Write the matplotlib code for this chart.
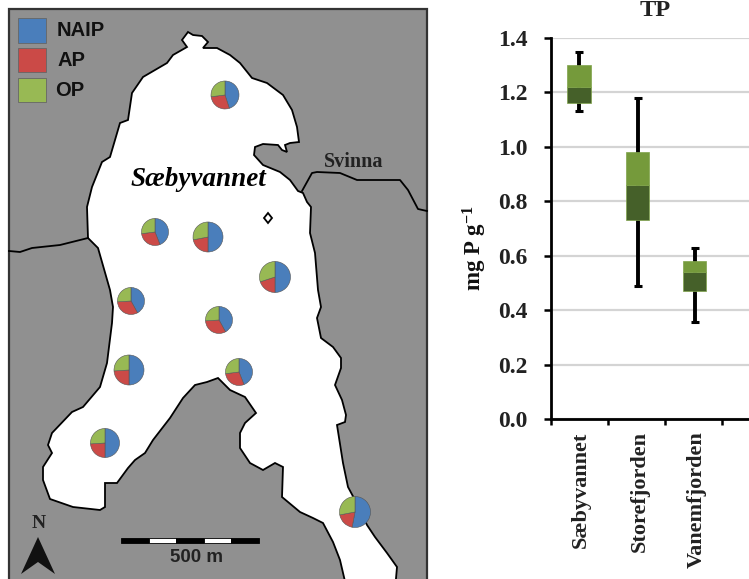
import numpy as np
import matplotlib
matplotlib.use('Agg')
import matplotlib.pyplot as plt
from matplotlib.patches import Rectangle, Polygon

plt.rcParams['font.family'] = ['Liberation Serif', 'DejaVu Sans']
plt.rcParams['mathtext.fontset'] = 'custom'
plt.rcParams['mathtext.rm'] = 'Liberation Serif:bold'
plt.rcParams['mathtext.default'] = 'rm'

# Map data, read in picture pixels
lake_x = [182, 188, 193, 202, 208, 203, 217, 230, 240, 252, 267, 283, 292, 297, 299, 290, 285, 287, 282,
          278, 263, 255, 254, 263, 280, 290, 298, 303, 307, 311, 310, 315, 318, 321, 317, 321, 333, 341, 341,
          335, 342, 346, 345, 337, 343, 348, 355, 367, 375, 387, 397, 395, 347, 340, 333, 323, 313, 300, 282,
          283, 275, 263, 250, 240, 240, 245, 256, 245, 230, 218, 207, 195, 183, 170, 153, 145, 135, 128, 117,
          105, 105, 100, 73, 50, 43, 43, 52, 48, 52, 72, 83, 100, 107, 112, 113, 110, 98, 88, 87, 92, 102,
          110, 120, 128, 132, 143, 167, 173, 187, 182]
lake_y = [40, 32, 35, 36, 42, 48, 48, 55, 63, 78, 83, 95, 110, 127, 142, 143, 145, 152, 150,
          145, 144, 147, 155, 165, 172, 180, 191, 193, 202, 207, 233, 253, 290, 307, 318, 338, 347, 358, 368,
          385, 400, 415, 422, 425, 463, 487, 500, 525, 537, 553, 567, 590, 590, 560, 542, 523, 518, 512, 497,
          467, 463, 470, 463, 448, 433, 423, 413, 397, 390, 378, 382, 385, 398, 418, 440, 453, 460, 468, 483,
          483, 507, 510, 507, 499, 480, 467, 453, 445, 433, 412, 407, 387, 363, 323, 307, 290, 248, 238, 207,
          187, 162, 157, 123, 120, 93, 77, 63, 55, 47, 40]
river_east_x = [302, 312, 317, 340, 357, 400, 408, 418, 427]
river_east_y = [191, 173, 172, 173, 180, 180, 190, 209, 211]
river_west_x = [88, 60, 32, 20, 9]
river_west_y = [238, 245, 248, 252, 251]
island_x = [264, 268, 272, 268]
island_y = [218, 213, 218, 223]

pie_labels = ['NAIP', 'AP', 'OP']
pie_colors = ['#4a7ebb', '#cb4a47', '#98b954']
pie_cx = [225, 155, 208, 275, 131, 219, 129, 239, 105, 355]
pie_cy = [95, 232, 237, 277, 301, 320, 370, 372, 443, 512]
pie_r = [14, 13.5, 15, 15.5, 13.5, 13.5, 15, 13.5, 14.5, 15.5]
naip = [45, 44, 50, 50, 42, 42, 50, 44, 50, 53]
ap = [28, 29, 22, 20, 32, 32, 24, 29, 24, 19]
op = [27, 27, 28, 30, 26, 26, 26, 27, 26, 28]

# Box plot data
sites = ['Sæbyvannet', 'Storefjorden', 'Vanemfjorden']
q1 = [1.16, 0.73, 0.47]
median = [1.22, 0.86, 0.54]
q3 = [1.30, 0.98, 0.58]
low = [1.13, 0.49, 0.355]
high = [1.35, 1.18, 0.63]

fig = plt.figure(figsize=(7.49, 5.79), dpi=100)

# Map
ax = fig.add_axes([0, 0, 1, 1])
ax.add_patch(Rectangle((8.5, 8.5), 418.5, 590, fc='#909090', ec='#333333', lw=1.6, zorder=1))
ax.add_patch(Polygon(np.column_stack([lake_x, lake_y]), fc='white', ec='black', lw=1.3, zorder=2))
ax.plot(river_east_x, river_east_y, color='black', lw=1.3, zorder=2)
ax.plot(river_west_x, river_west_y, color='black', lw=1.3, zorder=2)
ax.add_patch(Polygon(np.column_stack([island_x, island_y]), fc='white', ec='black', lw=1.3, zorder=2))

for i in range(len(pie_cx)):
    # y axis is flipped below, so 270 is straight up and the slices run clockwise
    wedges, _ = ax.pie([naip[i], ap[i], op[i]], colors=pie_colors, center=(pie_cx[i], pie_cy[i]),
                       radius=pie_r[i], startangle=270, frame=True,
                       wedgeprops=dict(ec='#555555', lw=0.4))
    for w in wedges:
        w.set_zorder(3)

ax.set_xlim(0, 749)
ax.set_ylim(579, 0)
ax.set_aspect('auto')
ax.axis('off')

# Legend made by hand, like the one on the map
for y, lab, col, tx in zip([18, 47.5, 77.5], pie_labels, pie_colors, [57, 58, 55]):
    ax.add_patch(Rectangle((18, y), 28, 24.5, fc=col, ec='#666666', lw=0.6, zorder=3))
    ax.text(tx, y + 12.5, lab, family='Liberation Sans', weight='bold', fontsize=14.5,
            va='center', ha='left', color='#111111', zorder=4)

ax.text(198, 180, 'Sæbyvannet', style='italic', weight='bold', fontsize=19.5, ha='center', va='center', zorder=4)
ax.text(354, 162, 'Svinna', weight='bold', fontsize=14.5, ha='center', va='center', color='#222222', zorder=4)

# Scale bar and north arrow
bar_edges = [121, 148.5, 176, 204, 231, 259]
for j in range(5):
    ax.add_patch(Rectangle((bar_edges[j], 538), bar_edges[j + 1] - bar_edges[j], 5,
                           fc='black' if j % 2 == 0 else 'white', ec='black', lw=0.6, zorder=3))
ax.text(197, 558, '500 m', family='Liberation Sans', weight='bold', fontsize=13.5, ha='center', va='center',
        color='#222222', zorder=4)
ax.text(38.5, 523, 'N', weight='bold', fontsize=14, ha='center', va='center', color='#222222', zorder=4)
ax.add_patch(Polygon([(21, 574), (38, 537), (55, 574), (38, 562)], fc='#111111', ec='none', zorder=3))

# TP box plot
ax2 = fig.add_axes([551 / 749, 1 - 419 / 579, 198 / 749, 381 / 579])
ax2.patch.set_alpha(0)
pos = np.array([0.49, 1.52, 2.52])
ax2.yaxis.grid(True, color='#d4d4d4', lw=1.6, zorder=0)
ax2.set_axisbelow(True)
ax2.errorbar(pos, median, yerr=[np.array(median) - np.array(low), np.array(high) - np.array(median)],
             fmt='none', ecolor='black', elinewidth=2.8, capsize=3, capthick=2.2, zorder=2)
ax2.bar(pos, np.array(median) - np.array(q1), 0.41, bottom=q1, color='#456029', ec='#7fa34a', lw=0.5, zorder=3)
ax2.bar(pos, np.array(q3) - np.array(median), 0.41, bottom=median, color='#759a3b', ec='#7fa34a', lw=0.5, zorder=3)

ax2.set_xlim(0, 198 / 57)
ax2.set_ylim(0, 1.4)
ax2.set_yticks(np.arange(0, 1.41, 0.2))
ax2.set_yticklabels([f'{v:.1f}' for v in np.arange(0, 1.41, 0.2)], weight='bold', fontsize=17, color='#222222')
ax2.set_xticks(pos + 0.04)
ax2.set_xticklabels(sites, rotation=90, weight='bold', fontsize=16, color='#222222')
ax2.set_xticks([0, 1, 2, 3], minor=True)
ax2.tick_params(axis='x', which='major', length=0, pad=9)
ax2.tick_params(axis='x', which='minor', length=4, width=1.8)
ax2.tick_params(axis='y', length=5, width=1.8, pad=12)
ax2.spines['top'].set_visible(False)
ax2.spines['right'].set_visible(False)
ax2.spines['left'].set_linewidth(2)
ax2.spines['bottom'].set_linewidth(2)
ax.text(475, 248, 'mg P g$^{-1}$', rotation=90, fontsize=16.5, weight='bold', ha='center', va='center', color='#111111')
ax.text(655, 11, 'TP', weight='bold', fontsize=17.5, ha='center', va='center', color='#222222')

fig.savefig('out.png', dpi=100)
